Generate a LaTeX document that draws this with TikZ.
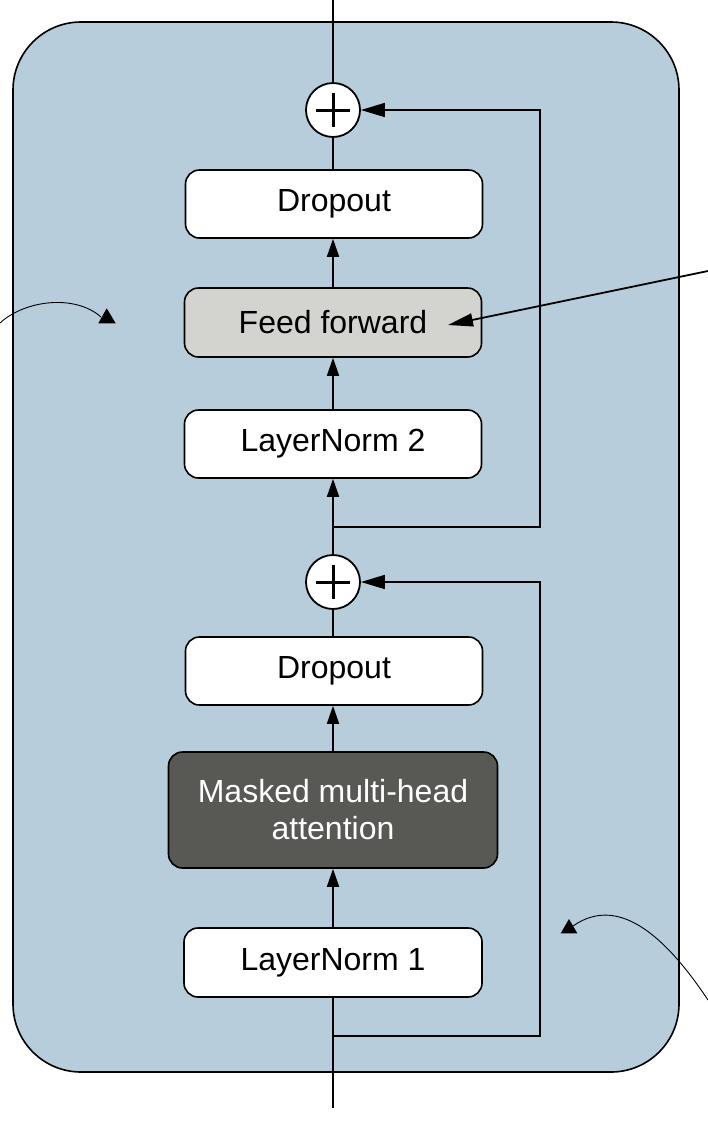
\documentclass[tikz,border=0pt]{standalone}
\usepackage{fontspec}
\setmainfont{Liberation Sans}
\usetikzlibrary{arrows.meta,calc}
\definecolor{bgblue}{HTML}{B7CDDB}
\definecolor{ffgray}{HTML}{D3D3D0}
\definecolor{mhagray}{HTML}{585955}
\begin{document}
\begin{tikzpicture}[x=1pt,y=-1pt,
  blk/.style={draw, line width=1.6pt, rounded corners=14pt, fill=white, inner sep=0pt, align=center,
    font=\fontsize{32}{37}\selectfont, minimum width=297pt, minimum height=68pt},
  plusnode/.style={circle, draw, line width=1.8pt, fill=white, minimum size=54pt, inner sep=0pt},
  conn/.style={line width=1.7pt},
  arr/.style={line width=1.7pt, -{Triangle[length=18pt,width=12pt]}},
  sarr/.style={line width=1.7pt, -{Triangle[length=24pt,width=14pt]}},
  thinline/.style={line width=0.9pt},
  medarr/.style={line width=1.8pt, -{Triangle[length=25pt,width=13pt]}}]
\useasboundingbox (0,0) rectangle (708,1144);
\draw[line width=1.6pt, fill=bgblue, rounded corners=68pt] (13,22) rectangle (679,1072);

% nodes
\node[blk] (do2) at (334,204) {Dropout};
\node[blk, fill=ffgray, minimum height=69pt] (ff) at (333,322.5) {Feed forward};
\node[blk] (ln2) at (333,444) {LayerNorm 2};
\node[plusnode] (p1) at (333,582) {};
\node[blk] (do1) at (334,671) {Dropout};
\node[blk, fill=mhagray, text=white, minimum width=329pt, minimum height=116pt] (mha) at (333,810) {Masked multi-head\\attention};
\node[blk, minimum width=298pt, minimum height=69pt] (ln1) at (333,962.5) {LayerNorm 1};
\node[plusnode] (p2) at (333,110) {};

% plus signs
\foreach \p in {p1,p2}{
  \draw[line width=3pt] ($(\p.center)+(-17,0)$) -- ($(\p.center)+(17,0)$);
  \draw[line width=3pt] ($(\p.center)+(0,-17)$) -- ($(\p.center)+(0,17)$);
}

% coordinates
\coordinate (top) at (333,0);
\coordinate (bot) at (333,1108);
\coordinate (j2) at (333,527);
\coordinate (rx2) at (540,110);
\coordinate (j1) at (333,1036);
\coordinate (rx1) at (540,582);
\coordinate (la) at (0,323);
\coordinate (lb) at (101,317);
\coordinate (ra) at (708,1000);
\coordinate (rb) at (573,926);
\coordinate (fa) at (708,271);
\coordinate (fb) at (448,325);

% connectors
\draw[conn] (p2) -- (top);
\draw[conn] (do2.north -| p2) -- (p2);
\draw[arr] (ff) -- (ff |- do2.south);
\draw[arr] (ln2) -- (ff);
\draw[arr] (p1) -- (ln2);
\draw[sarr] (j2) -| (rx2) -- (p2);
\draw[conn] (do1.north -| p1) -- (p1);
\draw[arr] (mha) -- (mha |- do1.south);
\draw[arr] (ln1) -- (mha);
\draw[conn] (bot) -- (ln1);
\draw[sarr] (j1) -| (rx1) -- (p1);

% annotation arrows
\draw[thinline] (la) .. controls (25,300) and (75,294) .. (lb);
\fill (106.7,308.3) -- (98.3,323.3) -- (115.7,323.3) -- cycle;
\draw[thinline] (ra) .. controls (668,940) and (620,893) .. (rb);
\fill (569,919) -- (560.7,933.3) -- (577.3,933.3) -- cycle;
\draw[medarr] (fa) -- (fb);
\end{tikzpicture}
\end{document}
